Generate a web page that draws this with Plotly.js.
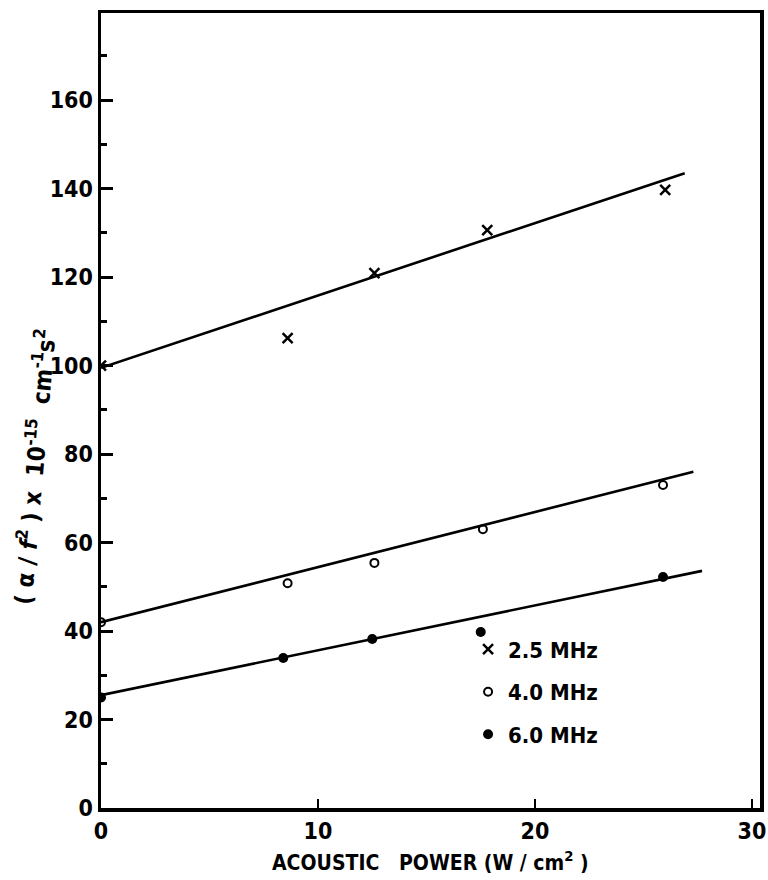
<!DOCTYPE html>
<html>
<head>
<meta charset="utf-8">
<script src="https://cdn.plot.ly/plotly-3.0.1.min.js"></script>
<style>html,body{margin:0;padding:0;background:#fff;}#chart{width:768px;height:880px;}</style>
</head>
<body>
<div id="chart"></div>
<script>
// Measured points (acoustic power W/cm^2 vs (alpha/f^2) x 1e-15 cm^-1 s^2)
const power25 = [0, 8.6, 12.6, 17.8, 26.0];
const alpha25 = [100, 106.2, 120.9, 130.6, 139.7];
const power40 = [0, 8.6, 12.6, 17.6, 25.9];
const alpha40 = [42, 50.8, 55.4, 63.0, 73.0];
const power60 = [0, 8.4, 12.5, 17.5, 25.9];
const alpha60 = [25, 33.9, 38.2, 39.8, 52.2];

// Fitted straight lines (end points)
const fit25x = [0, 26.9];
const fit25y = [99.5, 143.5];
const fit40x = [0, 27.3];
const fit40y = [42, 76.0];
const fit60x = [0, 27.7];
const fit60y = [25.5, 53.6];

const seriesNames = ['2.5 MHz', '4.0 MHz', '6.0 MHz'];
const xTicks = [0, 10, 20, 30];
const yTicks = [0, 20, 40, 60, 80, 100, 120, 140, 160];

const FONT = 'DejaVu Sans Condensed, DejaVu Sans, sans-serif';

const lineStyle = {color: '#000', width: 2.6};
const traces = [
  {x: fit25x, y: fit25y, mode: 'lines', line: lineStyle, showlegend: false, hoverinfo: 'skip'},
  {x: fit40x, y: fit40y, mode: 'lines', line: lineStyle, showlegend: false, hoverinfo: 'skip'},
  {x: fit60x, y: fit60y, mode: 'lines', line: lineStyle, showlegend: false, hoverinfo: 'skip'},
  {x: power25, y: alpha25, mode: 'markers', name: seriesNames[0], legendgroup: 'a',
   marker: {symbol: 'x-thin', size: 10, color: '#000', line: {color: '#000', width: 2.5}}},
  {x: power40, y: alpha40, mode: 'markers', name: seriesNames[1], legendgroup: 'b',
   marker: {symbol: 'circle-open', size: 8, color: '#000', line: {color: '#000', width: 2}}},
  {x: power60, y: alpha60, mode: 'markers', name: seriesNames[2], legendgroup: 'c',
   marker: {symbol: 'circle', size: 10, color: '#000'}}
];

const layout = {
  width: 768, height: 880,
  margin: {l: 101, r: 8, t: 13, b: 72, pad: 0},
  paper_bgcolor: '#fff', plot_bgcolor: '#fff',
  font: {family: FONT, color: '#000', size: 20, weight: 'bold'},
  showlegend: true,
  legend: {x: 0.557, y: 0.226, xanchor: 'left', yanchor: 'top', bgcolor: 'rgba(0,0,0,0)',
           font: {family: FONT, size: 22, color: '#000', weight: 'bold'},
           tracegroupgap: 11, itemwidth: 30},
  xaxis: {
    range: [0, 30.37], tickvals: xTicks, ticktext: xTicks.map(String),
    ticks: 'inside', ticklen: 9, tickwidth: 2.5, tickcolor: '#000',
    showline: true, linecolor: '#000', linewidth: 3.5, mirror: true,
    showgrid: false, zeroline: false,
    tickfont: {family: FONT, size: 23, color: '#000', weight: 'bold'},
    ticklabelstandoff: 0
  },
  yaxis: {
    range: [0, 179.7], tickvals: yTicks, ticktext: yTicks.map(String),
    ticks: 'inside', ticklen: 12, tickwidth: 3, tickcolor: '#000',
    minor: {dtick: 10, tick0: 0, ticks: 'inside', ticklen: 6, tickwidth: 3, tickcolor: '#000'},
    showline: true, linecolor: '#000', linewidth: 3.5, mirror: true,
    showgrid: false, zeroline: false,
    tickfont: {family: FONT, size: 23, color: '#000', weight: 'bold'},
    ticklabelstandoff: 0
  },
  annotations: [
    {xref: 'paper', yref: 'paper', x: 0.5, y: -0.047, xanchor: 'center', yanchor: 'top',
     text: 'ACOUSTIC&nbsp;&nbsp;&nbsp;POWER (W / cm<sup>2</sup> )', showarrow: false,
     font: {family: FONT, size: 21, color: '#000', weight: 'bold'}},
    {xref: 'paper', yref: 'paper', x: -0.102, y: 0.43, xanchor: 'center', yanchor: 'middle',
     textangle: -85,
     text: '( α / <i>f</i><sup>2</sup> ) x&nbsp;&nbsp;10<sup>-15</sup>&nbsp;&nbsp;cm<sup>-1</sup>s<sup>2</sup>', showarrow: false,
     font: {family: FONT, size: 24, color: '#000', weight: 'bold'}}
  ]
};

Plotly.newPlot('chart', traces, layout, {staticPlot: true, displayModeBar: false});
</script>
</body>
</html>
